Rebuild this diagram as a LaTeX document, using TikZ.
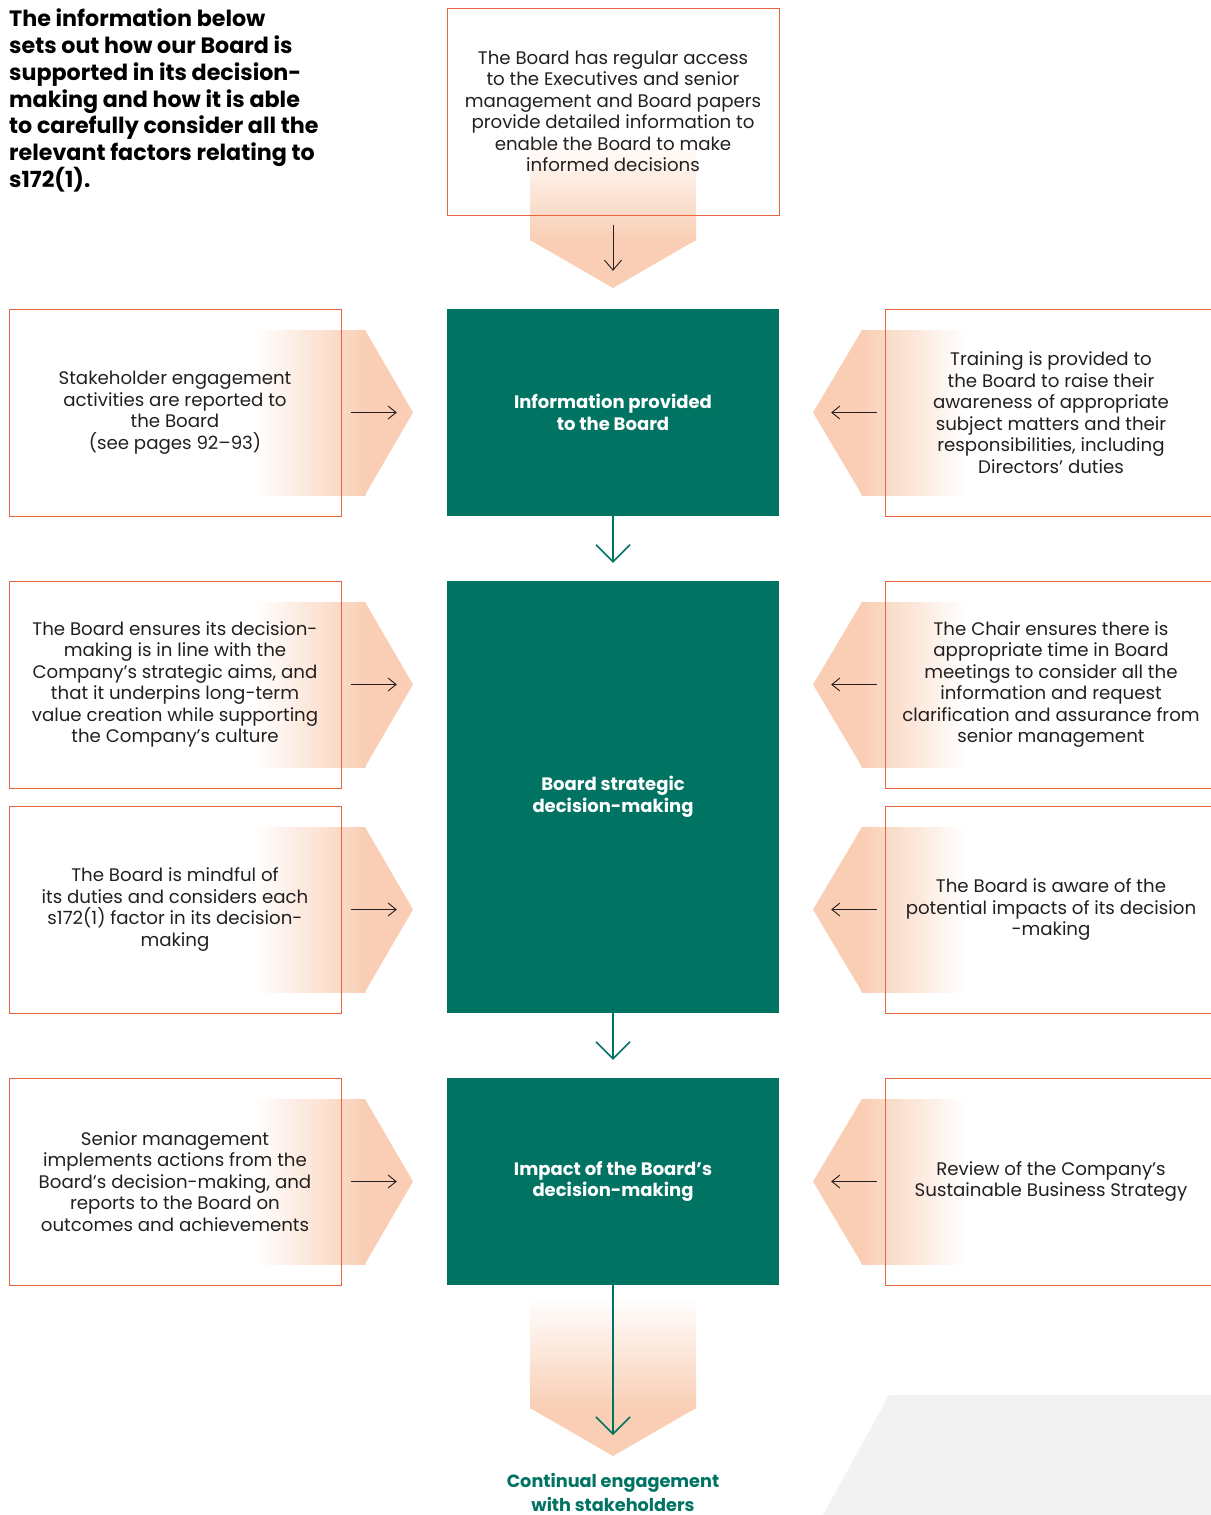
\documentclass[tikz,border=0pt]{standalone}
\usepackage{fontspec}
\setmainfont{Poppins}
\usetikzlibrary{arrows.meta}
\definecolor{peach}{RGB}{249,206,180}
\definecolor{oline}{RGB}{232,100,60}
\definecolor{bgreen}{RGB}{0,115,99}
\definecolor{pgray}{RGB}{242,242,242}
\definecolor{txt}{RGB}{35,31,32}
\newcommand{\mychevR}[1]{%
  \shade[left color=white, right color=peach] (255,#1-82.5) rectangle (365.5,#1+82.5);
  \fill[peach] (365,#1-82.5) -- (413,#1) -- (365,#1+82.5) -- cycle;}
\newcommand{\mychevL}[1]{%
  \shade[left color=peach, right color=white] (861.5,#1-82.5) rectangle (965,#1+82.5);
  \fill[peach] (862,#1-82.5) -- (813,#1) -- (862,#1+82.5) -- cycle;}
\begin{document}
\begin{tikzpicture}[x=1pt,y=-1pt,
  obox/.style={draw=oline, line width=1pt, minimum width=332pt, minimum height=207pt,
    inner sep=0pt, align=center, text=txt, font=\fontsize{18.2}{21.5}\selectfont},
  gbox/.style={fill=bgreen, minimum width=332pt, inner sep=0pt, align=center,
    text=white, font=\bfseries\fontsize{18}{21.5}\selectfont},
  barrow/.style={draw=txt, line width=0.9pt, -{Straight Barb[length=8pt,width=13pt]}},
  garrow/.style={draw=bgreen, line width=1.5pt, -{Straight Barb[length=17pt,width=34pt]}}]
\useasboundingbox (0,0) rectangle (1210,1515);
% background shape
\fill[pgray] (889,1395) -- (1212,1395) -- (1212,1517) -- (822,1517) -- cycle;
% chevrons
\shade[top color=white, bottom color=peach] (530,140) rectangle (696,240.5);
\fill[peach] (530,240) -- (613,288) -- (696,240) -- cycle;
\shade[top color=white, bottom color=peach] (530,1298) rectangle (696,1408.5);
\fill[peach] (530,1408) -- (613,1456) -- (696,1408) -- cycle;
\mychevR{412.5}\mychevR{684.5}\mychevR{909.5}\mychevR{1181.5}
\mychevL{412.5}\mychevL{684.5}\mychevL{909.5}\mychevL{1181.5}
% intro text
\node[anchor=north west, inner sep=0pt, align=left, text=black,
  font=\bfseries\fontsize{22.2}{26.7}\selectfont] (intro) at (9,9)
  {The information below\\sets out how our Board is\\supported in its decision-\\making and how it is able\\to carefully consider all the\\relevant factors relating to\\s172(1).};
% boxes
\node[obox] (top) at (613,111.5) {The Board has regular access\\to the Executives and senior\\management and Board papers\\provide detailed information to\\enable the Board to make\\informed decisions};
\node[obox] (l1) at (175,412.5) {Stakeholder engagement\\activities are reported to\\the Board\\(see pages 92–93)};
\node[obox] (r1) at (1051,412.5) {Training is provided to\\the Board to raise their\\awareness of appropriate\\subject matters and their\\responsibilities, including\\Directors’ duties};
\node[obox] (l2) at (175,684.5) {The Board ensures its decision-\\making is in line with the\\Company’s strategic aims, and\\that it underpins long-term\\value creation while supporting\\the Company’s culture};
\node[obox] (r2) at (1051,684.5) {The Chair ensures there is\\appropriate time in Board\\meetings to consider all the\\information and request\\clarification and assurance from\\senior management};
\node[obox] (l3) at (175,909.5) {The Board is mindful of\\its duties and considers each\\s172(1) factor in its decision-\\making};
\node[obox] (r3) at (1051,909.5) {The Board is aware of the\\potential impacts of its decision\\{-making}};
\node[obox] (l4) at (175,1181.5) {Senior management\\implements actions from the\\Board’s decision-making, and\\reports to the Board on\\outcomes and achievements};
\node[obox] (r4) at (1051,1181.5) {Review of the Company’s\\Sustainable Business Strategy};
\node[gbox, minimum height=207pt] (info) at (613,412.5) {Information provided\\to the Board};
\node[gbox, minimum height=432pt] (strat) at (613,797) {Board strategic\\decision-making};
\node[gbox, minimum height=207pt] (impact) at (613,1181.5) {Impact of the Board’s\\decision-making};
\node[inner sep=0pt, align=center, text=bgreen, font=\bfseries\fontsize{17.7}{24}\selectfont] (cont) at (613,1492) {Continual engagement\\with stakeholders};
\coordinate (endpt) at (613,1435);
% connectors
\draw[barrow, -{Straight Barb[length=10pt,width=17pt]}, shorten <=9pt, shorten >=38pt] (top) -- (info);
\draw[garrow, shorten >=18pt] (info) -- (strat);
\draw[garrow, shorten >=18pt] (strat) -- (impact);
\draw[garrow] (impact.south) -- (endpt);
\foreach \n/\m in {l1/info,l2/strat,l3/strat,l4/impact}{
  \draw[barrow, shorten <=9pt, shorten >=50pt] (\n.east) -- (\n.east -| \m.west);}
\foreach \n/\m in {r1/info,r2/strat,r3/strat,r4/impact}{
  \draw[barrow, shorten <=8pt, shorten >=52pt] (\n.west) -- (\n.west -| \m.east);}
\end{tikzpicture}
\end{document}
